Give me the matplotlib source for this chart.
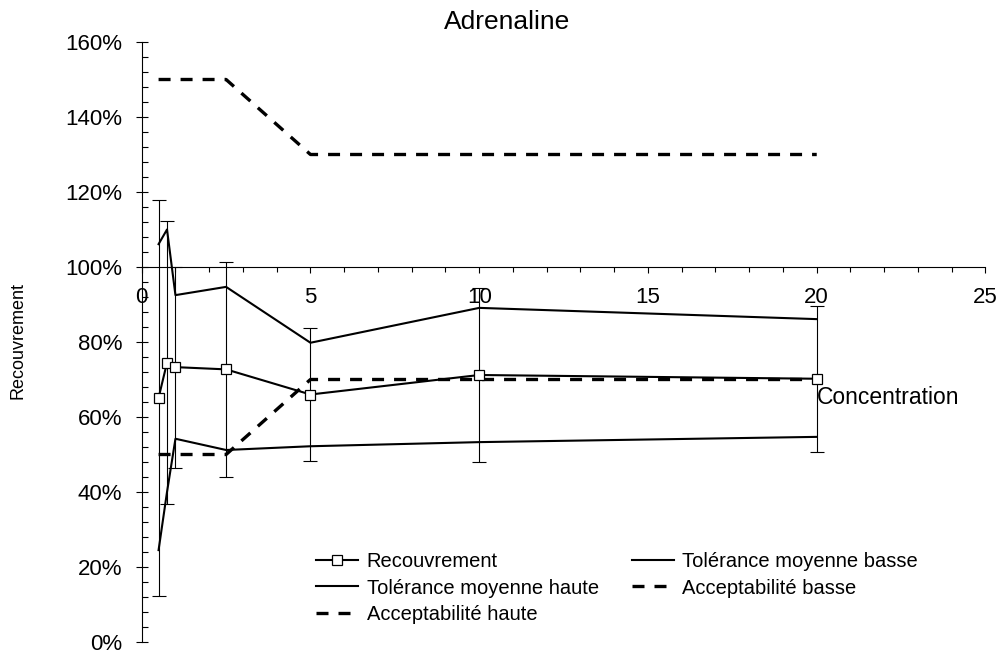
import matplotlib
matplotlib.use('Agg')
import matplotlib.pyplot as plt
import numpy as np
from matplotlib.ticker import MultipleLocator, PercentFormatter

plt.rcParams['font.family'] = ['Liberation Sans', 'DejaVu Sans']

# data
conc = [0.5, 0.75, 1, 2.5, 5, 10, 20]
recouvrement = [0.651, 0.745, 0.733, 0.727, 0.660, 0.712, 0.702]
erreur = [0.528, 0.377, 0.268, 0.287, 0.177, 0.233, 0.195]
tol_haute = [1.061, 1.100, 0.925, 0.947, 0.798, 0.891, 0.861]
tol_basse = [0.245, 0.40, 0.542, 0.512, 0.522, 0.533, 0.547]
acc_haute = [1.5, 1.5, 1.5, 1.5, 1.3, 1.3, 1.3]
acc_basse = [0.5, 0.5, 0.5, 0.5, 0.7, 0.7, 0.7]

fig = plt.figure(figsize=(10.02, 6.53), dpi=100)
ax = fig.add_axes([141.7/1002, 11/653, 843.8/1002, 600/653])

ax.errorbar(conc, recouvrement, yerr=erreur, fmt='none', ecolor='black',
            elinewidth=0.8, capsize=5, capthick=0.8, zorder=2)
l_rec, = ax.plot(conc, recouvrement, color='black', lw=1.5, marker='s',
                 markersize=7, markerfacecolor='white', markeredgecolor='black',
                 markeredgewidth=0.9, zorder=4, label='Recouvrement')
l_tb, = ax.plot(conc, tol_basse, color='black', lw=1.5, zorder=3,
                label='Tolérance moyenne basse')
l_th, = ax.plot(conc, tol_haute, color='black', lw=1.5, zorder=3,
                label='Tolérance moyenne haute')
l_ab, = ax.plot(conc, acc_basse, color='black', lw=2.4, dashes=(3.6, 3.0),
                dash_capstyle='butt', zorder=3, label='Acceptabilité basse')
l_ah, = ax.plot(conc, acc_haute, color='black', lw=2.4, dashes=(3.6, 3.0),
                dash_capstyle='butt', zorder=3, label='Acceptabilité haute')

ax.set_xlim(0, 25)
ax.set_ylim(0, 1.6)
ax.spines['top'].set_visible(False)
ax.spines['right'].set_visible(False)
ax.spines['bottom'].set_position(('data', 1.0))
ax.xaxis.set_major_locator(MultipleLocator(5))
ax.xaxis.set_minor_locator(MultipleLocator(1))
ax.yaxis.set_major_locator(MultipleLocator(0.2))
ax.yaxis.set_minor_locator(MultipleLocator(0.04))
ax.yaxis.set_major_formatter(PercentFormatter(1.0, decimals=0))
ax.tick_params(axis='x', which='major', direction='out', length=4.5, width=0.8,
               pad=10, labelsize=16)
ax.tick_params(axis='x', which='minor', direction='out', length=3.5, width=0.8)
ax.tick_params(axis='y', which='major', direction='inout', length=8, width=0.8,
               pad=10, labelsize=16)
ax.tick_params(axis='y', which='minor', direction='in', length=4, width=0.8)

ax.text(0.800, 0.408, 'Concentration', transform=ax.transAxes, fontsize=16.5,
        ha='left', va='center')
fig.text(0.506, 1 - 22/653, 'Adrenaline', fontsize=19, ha='center', va='center')
fig.text(18/1002, 1 - 340/653, 'Recouvrement', fontsize=13, rotation=90,
         ha='center', va='center')

handles = [l_rec, l_th, l_ah, l_tb, l_ab]
fig.legend(handles, [h.get_label() for h in handles], ncol=2, frameon=False,
           loc='center', bbox_to_anchor=(617/1002, 1 - 588/653), fontsize=14.5,
           handlelength=2.1, handletextpad=0.4, columnspacing=1.64,
           labelspacing=0.36)

fig.savefig('out.png', dpi=100)
